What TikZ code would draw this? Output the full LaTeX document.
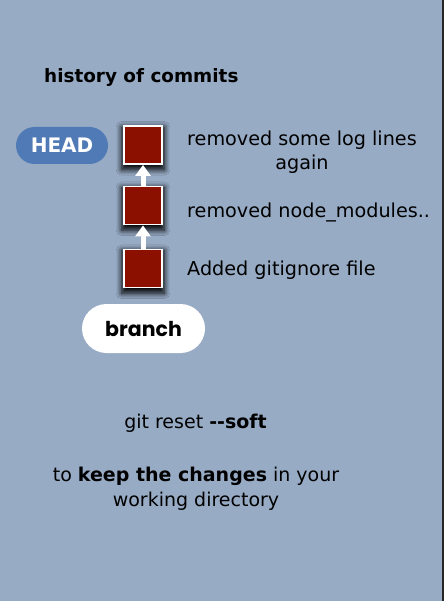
\documentclass[tikz,border=0pt]{standalone}
\usepackage{fontspec}
\setmainfont{DejaVu Sans}
\newfontfamily\pillfont{Poppins}
\usetikzlibrary{shapes,arrows.meta,shadows.blur}
\definecolor{slate}{HTML}{97ABC5}
\definecolor{headblue}{HTML}{4F7AB5}
\definecolor{commitred}{HTML}{8B1000}
\newcommand{\commitbox}[2]{
  \node[commit] (#1) at (143,#2) {};
}
\tikzset{
  commit/.style = {draw=white, line width=1.8pt, fill=commitred,
                   minimum size=38pt, inner sep=0pt,
                   blur shadow={shadow xshift=0pt, shadow yshift=-3pt,
                                shadow scale=1.12, shadow blur radius=5pt,
                                shadow opacity=100, shadow blur steps=8}},
  pill/.style   = {rounded rectangle, inner sep=0pt},
  msg/.style    = {anchor=base west, inner sep=0pt,
                   font=\fontsize{19.2}{24}\selectfont},
  note/.style   = {anchor=base, inner sep=0pt,
                   font=\fontsize{19}{25}\selectfont},
  parent/.style = {draw=white, line width=5pt,
                   -{Triangle[width=15pt,length=11pt]}}
}

\begin{document}
\begin{tikzpicture}[x=1pt, y=-1pt]
  \fill[slate] (0,0) rectangle (444,601);
  \fill[black!85] (442,0) rectangle (444,601);
  \node[anchor=base west, inner sep=0pt, font=\fontsize{18.4}{22}\selectfont\bfseries]
    (title) at (44,83) {history of commits};
  \node[pill, fill=headblue, minimum width=92pt, minimum height=37pt,
        text=white, font=\fontsize{20}{24}\selectfont\bfseries]
    (head) at (62,145.5) {HEAD};
  \commitbox{c3}{268.5}
  \commitbox{c2}{205.5}
  \commitbox{c1}{145}
  \draw[parent] (c3.north) -- (c2.south);
  \draw[parent] (c2.north) -- (c1.south);
  \node[anchor=north west, inner sep=0pt, align=center,
        font=\fontsize{19.2}{24}\selectfont]
    (m1) at (187,131) {removed some log lines\\again};
  \node[msg] (m2) at (187,218) {removed node\_modules..};
  \node[msg] (m3) at (187,275) {Added gitignore file};
  \node[pill, fill=white, minimum width=123pt, minimum height=49pt,
        font=\pillfont\fontsize{20.5}{24}\selectfont\bfseries]
    (branch) at (143.5,328.5) {branch};
  \node[note] (cmd) at (195.5,428) {git reset \textbf{-{}-soft}};
  \node[note, align=center, anchor=north] (keep) at (196,467)
    {to \textbf{keep the changes} in your\\working directory};
\end{tikzpicture}
\end{document}
